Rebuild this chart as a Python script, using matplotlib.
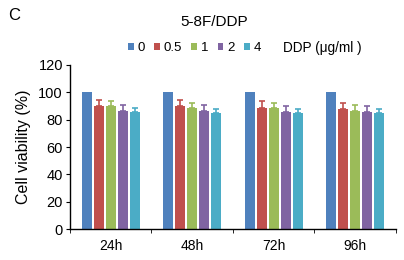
import matplotlib
matplotlib.use("Agg")
import matplotlib.pyplot as plt
from matplotlib.patches import Patch
import numpy as np

plt.rcParams['font.family'] = ['Liberation Sans', 'DejaVu Sans']

groups = ["24h", "48h", "72h", "96h"]
doses = ["0", "0.5", "1", "2", "4"]
colors = ["#4F81BD", "#C0504D", "#9BBB59", "#8064A2", "#4BACC6"]
values = {
    "0":   [100, 100, 100, 100],
    "0.5": [89.8, 89.8, 88.5, 87.6],
    "1":   [89.8, 88.5, 88.5, 86.5],
    "2":   [86.5, 86.5, 85.6, 85.6],
    "4":   [85.6, 84.6, 84.6, 84.6],
}
errors = {
    "0":   [0, 0, 0, 0],
    "0.5": [4.5, 4.5, 5.0, 4.5],
    "1":   [4.0, 4.0, 4.0, 4.0],
    "2":   [4.5, 4.5, 4.5, 4.5],
    "4":   [3.0, 3.0, 3.0, 3.0],
}
yticks = [0, 20, 40, 60, 80, 100, 120]

fig = plt.figure(figsize=(4.04, 2.6), dpi=100)
ax = fig.add_axes([0.173, 0.119, 0.807, 0.631])

x = np.arange(len(groups))
slot = 0.147
width = 0.125
for i, (d, c) in enumerate(zip(doses, colors)):
    pos = x + (i - 2) * slot
    err = errors[d]
    ax.bar(pos, values[d], width=width, color=c, zorder=2)
    if any(e > 0 for e in err):
        ax.errorbar(pos, values[d], yerr=[np.zeros(len(err)), err], fmt='none',
                    ecolor=c, elinewidth=1.2, capsize=2.5, capthick=1.2, zorder=3)

ax.set_xlim(-0.5, len(groups) - 0.5)
ax.set_ylim(0, 120)
ax.set_yticks(yticks)
ax.tick_params(axis='y', direction='out', length=3, labelsize=10.5, pad=2)
ax.set_xticks(x)
ax.set_xticklabels(groups, fontsize=10)
ax.tick_params(axis='x', which='major', length=0, pad=7)
ax.set_xticks(np.arange(-0.5, len(groups), 1.0), minor=True)
ax.tick_params(axis='x', which='minor', direction='out', length=3)
for s in ['top', 'right']:
    ax.spines[s].set_visible(False)
ax.spines['left'].set_linewidth(1.0)
ax.spines['bottom'].set_linewidth(1.0)
ax.set_ylabel("Cell viability (%)", fontsize=11.5, labelpad=5)

fig.text(0.02, 0.942, "C", fontsize=12, ha='left', va='center')
fig.text(0.53, 0.915, "5-8F/DDP", fontsize=11, ha='center', va='center')

handles = [Patch(facecolor=c, edgecolor='none') for c in colors]
leg = fig.legend(handles, doses, loc='center left', bbox_to_anchor=(0.316, 0.815),
                 ncol=5, frameon=False, fontsize=9.5, handlelength=0.45,
                 handleheight=0.45, handletextpad=0.28, columnspacing=0.7,
                 borderpad=0, borderaxespad=0)
fig.text(0.70, 0.815, "DDP (μg/ml )", fontsize=9.8, ha='left', va='center')

fig.savefig("out.png", dpi=100)
